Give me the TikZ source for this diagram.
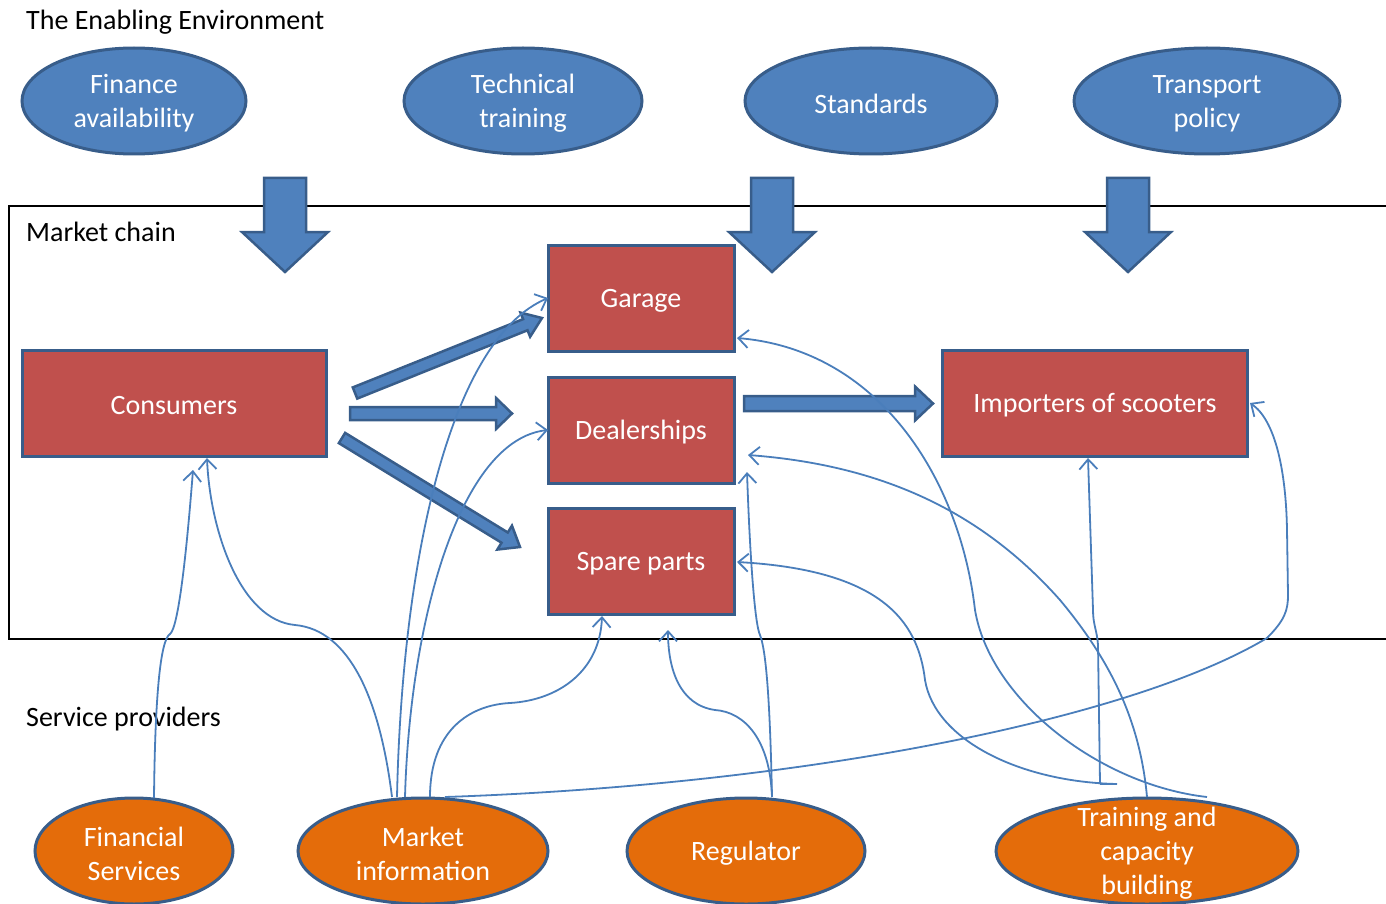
\documentclass[tikz,border=0pt]{standalone}
\usepackage{fontspec}
\setmainfont{Carlito}
\usetikzlibrary{calc,shapes.geometric,arrows.meta}
\definecolor{envblue}{HTML}{4F81BD}
\definecolor{edgeblue}{HTML}{385D8A}
\definecolor{chainred}{HTML}{C0504D}
\definecolor{provorange}{HTML}{E46C0A}
\definecolor{linkblue}{HTML}{4A7EBB}

% block arrow: #1 tail, #2 tip, #3 shaft half width, #4 head half width, #5 head length
\newcommand{\blockarrow}[5]{%
  \coordinate (ba-base) at ($(#2)!#5!(#1)$);
  \filldraw[fatarrow]
    ($(#1)!#3!90:(#2)$) -- ($(ba-base)!#3!90:(#2)$) -- ($(ba-base)!#4!90:(#2)$)
    -- (#2) -- ($(ba-base)!#4!-90:(#2)$) -- ($(ba-base)!#3!-90:(#2)$)
    -- ($(#1)!#3!-90:(#2)$) -- cycle;
}

\begin{document}
\begin{tikzpicture}[x=1pt,y=-1pt,
  txt/.style={font=\fontsize{28}{34}\selectfont},
  shapebase/.style={draw=edgeblue, line width=3pt, inner sep=0pt, minimum height=106pt},
  envnode/.style={shapebase, ellipse, fill=envblue},
  chainbox/.style={shapebase, rectangle, fill=chainred},
  provnode/.style={shapebase, ellipse, fill=provorange},
  overtext/.style={txt, text=white, align=center, inner sep=0pt, yshift=-2.5pt},
  label/.style={txt, anchor=west, inner sep=0pt, text=black},
  fatarrow/.style={fill=envblue, draw=edgeblue, line width=2.5pt, line join=miter},
  link/.style={draw=linkblue, line width=1.8pt,
    -{Straight Barb[length=10pt,width=18pt,line width=1.8pt]}},
  plain/.style={draw=linkblue, line width=1.8pt}
]
\useasboundingbox (0,0) rectangle (1386,904);

% section labels
\node[label] (envtitle) at (26,22) {The Enabling Environment};
\node[label] (chaintitle) at (26,232) {Market chain};
\node[label] (provtitle) at (26,719) {Service providers};

% market chain frame (open to the right)
\draw[line width=2pt, black] (1390,206) -- (9,206) -- (9,639) -- (1390,639);

% enabling environment
\node[envnode, minimum width=224pt] (finance) at (134,101) {};
\node[envnode, minimum width=238pt] (techtrain) at (523,101) {};
\node[envnode, minimum width=252pt] (standards) at (871,101) {};
\node[envnode, minimum width=266pt] (transport) at (1207,101) {};
\node[overtext] (financetext) at (finance.center) {Finance\\availability};
\node[overtext] (techtraintext) at (techtrain.center) {Technical\\training};
\node[overtext] (standardstext) at (standards.center) {Standards};
\node[overtext] (transporttext) at (transport.center) {Transport\\policy};

% influence arrows into the market chain
\coordinate (d1a) at (285,178); \coordinate (d1b) at (285,272);
\coordinate (d2a) at (772,178); \coordinate (d2b) at (772,272);
\coordinate (d3a) at (1128,178); \coordinate (d3b) at (1128,272);
\blockarrow{d1a}{d1b}{21pt}{43pt}{40pt}
\blockarrow{d2a}{d2b}{21pt}{43pt}{40pt}
\blockarrow{d3a}{d3b}{21pt}{43pt}{40pt}

% market chain actors
\node[chainbox, minimum width=304pt] (consumers) at (174,403) {};
\node[chainbox, minimum width=186pt] (garage) at (641,298) {};
\node[chainbox, minimum width=186pt] (dealers) at (641,430) {};
\node[chainbox, minimum width=186pt] (spares) at (641,561) {};
\node[chainbox, minimum width=305pt] (importers) at (1095,403) {};
\node[overtext] (consumerstext) at (consumers.center) {Consumers};
\node[overtext] (garagetext) at (garage.center) {Garage};
\node[overtext] (dealerstext) at (dealers.center) {Dealerships};
\node[overtext] (sparestext) at (spares.center) {Spare parts};
\node[overtext] (importerstext) at (importers.center) {Importers of scooters};

% flows along the chain
\coordinate (f1a) at (355,393); \coordinate (f1b) at (542,318);
\coordinate (f2a) at (350,413.5); \coordinate (f2b) at (512,413.5);
\coordinate (f3a) at (342,438); \coordinate (f3b) at (520,547);
\coordinate (f4a) at (744,403.5); \coordinate (f4b) at (933,403.5);
\blockarrow{f1a}{f1b}{6pt}{13pt}{18pt}
\blockarrow{f2a}{f2b}{6.5pt}{15.5pt}{16pt}
\blockarrow{f3a}{f3b}{6pt}{14pt}{18pt}
\blockarrow{f4a}{f4b}{7.5pt}{17pt}{18pt}

% service providers
\node[provnode, minimum width=198pt] (finserv) at (134,851) {};
\node[provnode, minimum width=250pt] (marketinfo) at (423,851) {};
\node[provnode, minimum width=238pt] (regulator) at (746,851) {};
\node[provnode, minimum width=302pt] (training) at (1147,851) {};
\node[overtext] (finservtext) at (finserv.center) {Financial\\Services};
\node[overtext] (marketinfotext) at (marketinfo.center) {Market\\information};
\node[overtext] (regulatortext) at (regulator.center) {Regulator};
\node[overtext] (trainingtext) at (training.center) {Training and\\capacity\\building};

% connector end points
\coordinate (fsout) at (154,798);
\coordinate (cons1) at (193,470);
\coordinate (cons2) at (207,458);
\coordinate (miout1) at (392,797);
\coordinate (miout2) at (397,797);
\coordinate (miout3) at (405,797);
\coordinate (miout4) at (430,797);
\coordinate (miout5) at (445,797);
\coordinate (garleft) at (548,298);
\coordinate (dealleft) at (548,430);
\coordinate (spbottom) at (602,616);
\coordinate (impright) at (1250,403);
\coordinate (regout) at (772,797);
\coordinate (dealbottom) at (747,472);
\coordinate (spbelow) at (668,630);
\coordinate (trout1) at (1117,784);
\coordinate (trout2) at (1100,784);
\coordinate (trout3) at (1147,797);
\coordinate (trout4) at (1207,797);
\coordinate (spright) at (737,562);
\coordinate (impbottom) at (1088,458);
\coordinate (dealright) at (748,455);
\coordinate (garright) at (737,338);

% support links
\draw[link] (fsout) .. controls (155,700) and (160,640) .. (170,634)
  .. controls (178,628) and (186,560) .. (cons1);
\draw[link] (miout1) .. controls (380,700) and (350,630) .. (295,625)
  .. controls (240,620) and (210,530) .. (cons2);
\draw[link] (miout2) .. controls (402,560) and (450,340) .. (garleft);
\draw[link] (miout3) .. controls (410,620) and (460,440) .. (dealleft);
\draw[link] (miout4) .. controls (430,730) and (470,705) .. (510,703)
  .. controls (560,700) and (600,670) .. (spbottom);
\draw[link] (miout5) .. controls (800,785) and (1130,720) .. (1267,638)
  .. controls (1285,620) and (1288,610) .. (1288,595) -- (1287,530)
  .. controls (1286,470) and (1275,420) .. (impright);
\draw[link] (regout) .. controls (770,700) and (766,650) .. (760,635)
  .. controls (755,625) and (750,560) .. (dealbottom);
\draw[link] (regout) .. controls (770,740) and (745,712) .. (715,710)
  .. controls (680,705) and (668,670) .. (spbelow);
\draw[link] (trout1) .. controls (1020,782) and (935,740) .. (925,680)
  .. controls (918,620) and (880,570) .. (spright);
\draw[plain] (trout2) -- (trout1);
\draw[link] (trout2) -- (1098,645) .. controls (1097,630) and (1093,625) .. (1093,610) -- (impbottom);
\draw[link] (trout3) .. controls (1140,720) and (1110,660) .. (1060,600)
  .. controls (980,510) and (880,465) .. (dealright);
\draw[link] (trout4) .. controls (1100,785) and (990,700) .. (975,610)
  .. controls (960,480) and (880,350) .. (garright);
\end{tikzpicture}
\end{document}
